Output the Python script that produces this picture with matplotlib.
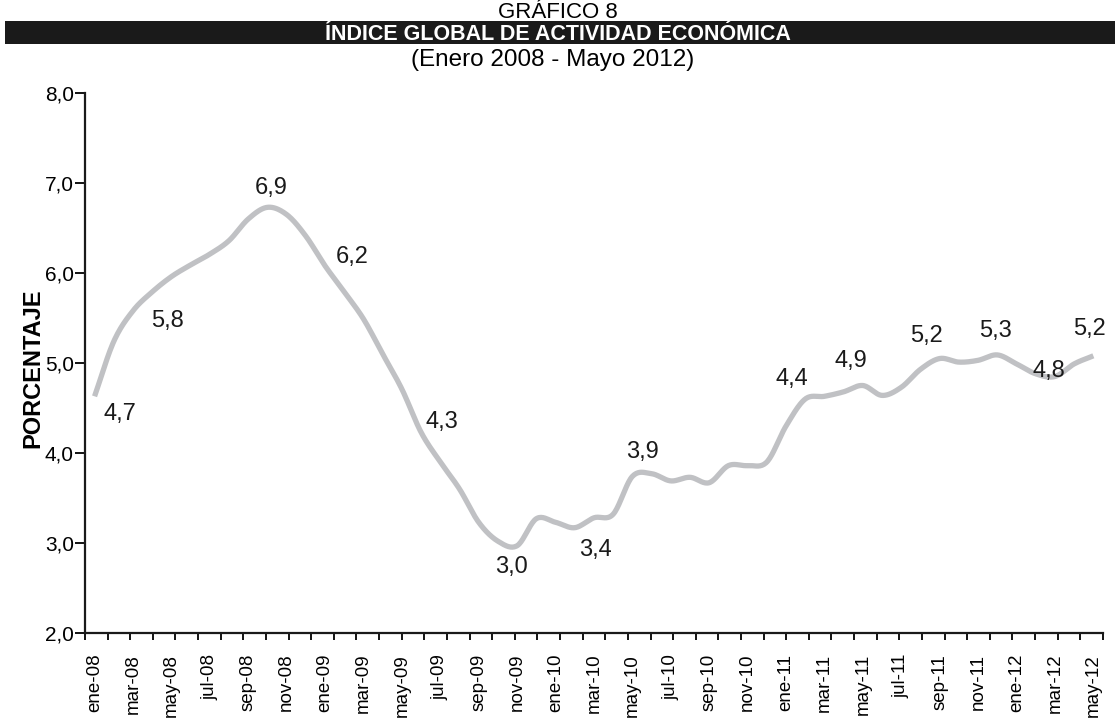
import numpy as np
import matplotlib
matplotlib.use("Agg")
import matplotlib.pyplot as plt
from matplotlib import font_manager
from matplotlib.patches import Rectangle

# ---------------- data ----------------
months = ["ene", "feb", "mar", "abr", "may", "jun", "jul", "ago", "sep", "oct", "nov", "dic"]
years = ["08", "09", "10", "11", "12"]
categories = [f"{m}-{y}" for y in years for m in months][:53]   # ene-08 .. may-12

values = [4.63, 5.24, 5.58, 5.79, 5.96, 6.09, 6.21, 6.36, 6.60, 6.73, 6.65, 6.41,
          6.08, 5.79, 5.49, 5.10, 4.71, 4.23, 3.90, 3.60, 3.23, 3.02, 2.97, 3.27,
          3.23, 3.17, 3.28, 3.32, 3.74, 3.77, 3.69, 3.73, 3.67, 3.86, 3.86, 3.90,
          4.30, 4.60, 4.63, 4.68, 4.75, 4.64, 4.73, 4.93, 5.05, 5.01, 5.03, 5.09,
          4.99, 4.88, 4.85, 4.99, 5.08]

label_texts = ["4,7", "5,8", "6,9", "6,2", "4,3", "3,0", "3,4", "3,9",
               "4,4", "4,9", "5,2", "5,3", "4,8", "5,2"]
# layout: where each data label sits (data coordinates)
label_x = [1.3, 3.8, 9.2, 13.4, 18.1, 21.7, 26.1, 28.5, 36.3, 39.4, 43.3, 46.9, 49.7, 51.8]
label_y = [4.43, 5.47, 6.95, 6.18, 4.34, 2.73, 2.92, 4.01, 4.82, 5.02, 5.30, 5.36, 4.91, 5.38]

yticks = [2, 3, 4, 5, 6, 7, 8]
ytick_labels = ["2,0", "3,0", "4,0", "5,0", "6,0", "7,0", "8,0"]

# ---------------- fonts ----------------
avail = {f.name for f in font_manager.fontManager.ttflist}
base = "Liberation Sans" if "Liberation Sans" in avail else "DejaVu Sans"
narrow = "Liberation Sans Narrow" if "Liberation Sans Narrow" in avail else base
plt.rcParams["font.family"] = [base, "DejaVu Sans"]


def catmull_rom(x, y, n=20):
    x = np.asarray(x, float)
    y = np.asarray(y, float)
    px = np.concatenate([[2 * x[0] - x[1]], x, [2 * x[-1] - x[-2]]])
    py = np.concatenate([[2 * y[0] - y[1]], y, [2 * y[-1] - y[-2]]])
    xs, ys = [], []
    t = np.linspace(0, 1, n, endpoint=False)
    for i in range(1, len(px) - 2):
        f = lambda a0, a1, a2, a3: 0.5 * ((2 * a1) + (-a0 + a2) * t +
                                         (2 * a0 - 5 * a1 + 4 * a2 - a3) * t ** 2 +
                                         (-a0 + 3 * a1 - 3 * a2 + a3) * t ** 3)
        xs.append(f(px[i - 1], px[i], px[i + 1], px[i + 2]))
        ys.append(f(py[i - 1], py[i], py[i + 1], py[i + 2]))
    xs.append([x[-1]])
    ys.append([y[-1]])
    return np.concatenate(xs), np.concatenate(ys)


# ---------------- figure ----------------
fig = plt.figure(figsize=(11.15, 7.24), dpi=100)
ax = fig.add_axes([0.0762, 0.1257, 0.9130, 0.7458])

xi = np.arange(len(values))
sx, sy = catmull_rom(xi, values)
ax.plot(sx, sy, color="#c0c1c4", lw=3.8, solid_capstyle="butt", zorder=3)

for t, lx, ly in zip(label_texts, label_x, label_y):
    ax.text(lx, ly, t, fontsize=17, ha="center", va="center", color="#1a1a1a")

ax.set_xlim(-0.5, 52.5)
ax.set_ylim(2, 8)

ax.set_yticks(yticks)
ax.set_yticklabels(ytick_labels, fontsize=15)
ax.tick_params(axis="y", direction="out", length=7, width=1.3, pad=1, colors="black")

ax.set_xticks(xi[::2])
ax.set_xticklabels(categories[::2], rotation=90, fontsize=13.5)
ax.tick_params(axis="x", which="major", length=0, pad=15)
ax.set_xticks(np.linspace(-0.5, 52.5, 46), minor=True)
ax.tick_params(axis="x", which="minor", direction="out", length=5, width=1.3)

for s in ["top", "right"]:
    ax.spines[s].set_visible(False)
for s in ["left", "bottom"]:
    ax.spines[s].set_linewidth(1.6)
    ax.spines[s].set_color("#1a1a1a")

fig.text(0.0296, 0.492, "PORCENTAJE", rotation=90, ha="center", va="center",
         fontsize=17, fontweight="bold")

# titles
fig.text(0.500, 1 - 18 / 724, "GRÁFICO 8", ha="center", va="baseline", fontsize=16,
         family=[narrow, "DejaVu Sans"])
fig.patches.append(Rectangle((0.0045, 1 - 44 / 724), 0.9955, 23 / 724, transform=fig.transFigure,
                             facecolor="#1a1a1a", edgecolor="none", zorder=0))
fig.text(0.500, 1 - 40 / 724, "ÍNDICE GLOBAL DE ACTIVIDAD ECONÓMICA", ha="center",
         va="baseline", fontsize=15.5, fontweight="bold", color="white",
         family=[narrow, "DejaVu Sans"])
fig.text(0.496, 1 - 66 / 724, "(Enero 2008 - Mayo 2012)", ha="center", va="baseline",
         fontsize=17.5, family=[narrow, "DejaVu Sans"])

fig.savefig("out.png", dpi=100)
